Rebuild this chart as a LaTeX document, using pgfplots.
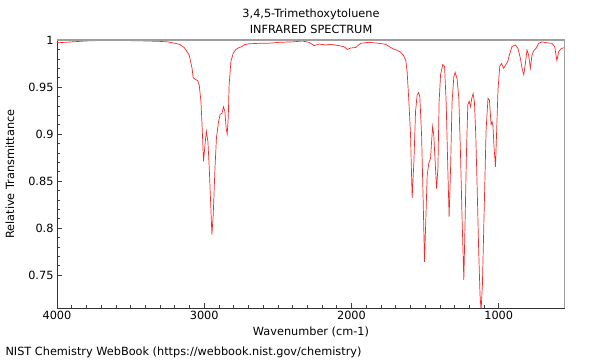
\documentclass[border=0pt]{standalone}
\usepackage{pgfplots}
\pgfplotsset{compat=1.18}
\usepackage{fontspec}
\setmainfont{DejaVu Sans}
\pgfplotstableread{
wn T
4000 0.997
3950 0.9975
3900 0.998
3850 0.9985
3800 0.999
3700 0.9995
3600 0.9995
3500 0.9993
3400 0.999
3300 0.9985
3250 0.998
3215 0.997
3169 0.9955
3136 0.992
3102 0.984
3083 0.970
3075 0.960
3061 0.958
3045 0.957
3034 0.952
3022 0.934
3012 0.899
3005 0.871
2995 0.888
2986 0.903
2975 0.892
2966 0.864
2955 0.821
2948 0.793
2939 0.814
2927 0.864
2917 0.896
2903 0.913
2892 0.921
2880 0.922
2869 0.929
2860 0.924
2851 0.906
2844 0.900
2837 0.917
2831 0.952
2819 0.977
2803 0.986
2785 0.990
2763 0.992
2744 0.993
2729 0.995
2695 0.996
2627 0.9965
2559 0.9966
2492 0.9975
2400 0.998
2334 0.9989
2288 0.9975
2254 0.994
2220 0.9957
2175 0.9947
2141 0.9954
2085 0.994
2051 0.9929
2028 0.990
2005 0.9915
1971 0.992
1938 0.9965
1881 0.9975
1814 0.9965
1768 0.9954
1723 0.991
1690 0.989
1666 0.987
1644 0.983
1631 0.978
1622 0.966
1610 0.934
1599 0.899
1588 0.832
1576 0.871
1565 0.924
1554 0.9415
1544 0.944
1536 0.940
1524 0.899
1513 0.828
1504 0.764
1495 0.810
1486 0.856
1475 0.869
1463 0.874
1456 0.892
1449 0.908
1441 0.899
1432 0.871
1422 0.842
1413 0.864
1405 0.934
1395 0.963
1380 0.974
1368 0.972
1357 0.934
1346 0.864
1337 0.812
1327 0.864
1317 0.934
1305 0.961
1296 0.9656
1283 0.959
1271 0.938
1260 0.881
1249 0.810
1237 0.745
1228 0.810
1219 0.881
1210 0.931
1201 0.935
1192 0.929
1183 0.938
1174 0.943
1165 0.934
1156 0.899
1147 0.846
1136 0.775
1127 0.729
1120 0.712
1111 0.739
1102 0.798
1086 0.904
1073 0.938
1063 0.936
1052 0.910
1045 0.913
1039 0.908
1032 0.886
1022 0.865
1014 0.904
1005 0.947
993 0.972
982 0.975
966 0.970
955 0.973
939 0.977
928 0.984
910 0.993
887 0.9947
869 0.991
853 0.9805
842 0.970
830 0.963
819 0.975
808 0.9894
797 0.984
785 0.970
774 0.984
761 0.989
747 0.991
729 0.9965
706 0.998
673 0.997
639 0.9965
620 0.993
605 0.978
593 0.9876
575 0.991
550 0.992
}\spectrum
\begin{document}
\begin{tikzpicture}[font=\fontsize{11.3bp}{13.5bp}\selectfont]
\useasboundingbox (-57bp,-52bp) rectangle (543bp,308bp);
\begin{axis}[
  at={(0,0)}, anchor=south west,
  scale only axis, width=508bp, height=268bp,
  x dir=reverse, xmin=550, xmax=4000, ymin=0.715, ymax=1,
  axis lines=left, axis line style={-, black!80, line width=0.8bp},
  xtick={1000,2000,3000,4000}, minor x tick num=9,
  ytick={0.75,0.8,0.85,0.9,0.95,1}, minor y tick num=4,
  tick align=inside, major tick length=5bp, minor tick length=3bp,
  tick style={black!75, line width=0.6bp},
  /pgf/number format/1000 sep={},
  /pgf/number format/assume math mode=true,
  xlabel={Wavenumber (cm-1)},
  ylabel={Relative Transmittance},
  xlabel style={at={(axis description cs:0.5,-0.0896)}, anchor=center},
  ylabel style={at={(axis description cs:-0.0925,0.5)}, anchor=center},
  clip=true,
]
\addplot[red!85, line width=0.7bp, mark=none] table[x=wn, y=T] {\spectrum};
\draw[gray!75, line width=1.2bp] (rel axis cs:0,1) -- (rel axis cs:1,1) -- (rel axis cs:1,0);
\end{axis}
\node[anchor=base] at (254bp,290.5bp) {3,4,5-Trimethoxytoluene};
\node[anchor=base] at (254bp,274bp) {INFRARED SPECTRUM};
\node[anchor=west] at (-55bp,-44bp) {NIST Chemistry WebBook (https://webbook.nist.gov/chemistry)};
\end{tikzpicture}
\end{document}
